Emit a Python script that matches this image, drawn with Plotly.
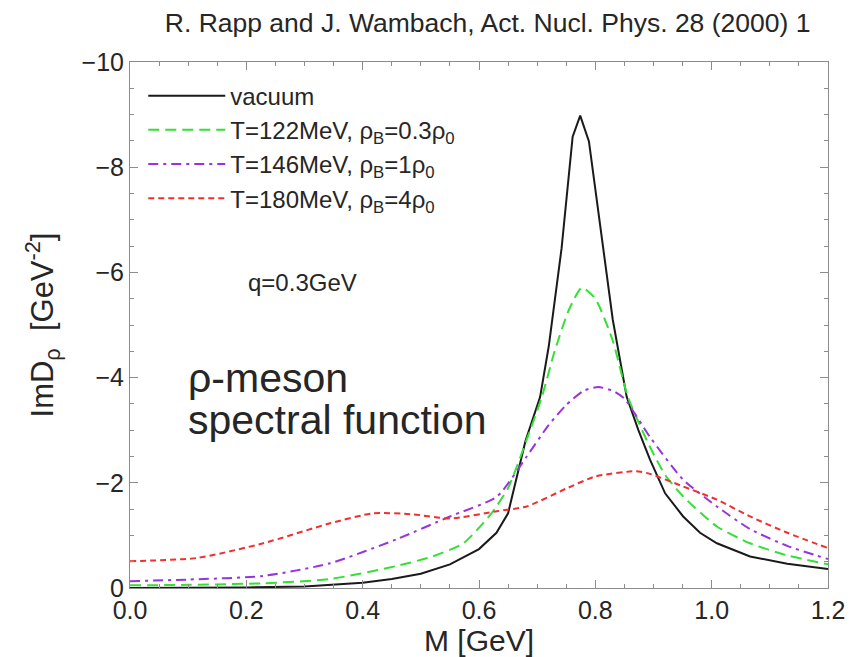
import plotly.graph_objects as go

# M [GeV] and ImD_rho [GeV^-2]
m_vac = [0.0, 0.1, 0.2, 0.3, 0.4, 0.45, 0.5, 0.55, 0.6, 0.63, 0.65, 0.68, 0.705, 0.72, 0.742, 0.761, 0.774, 0.789, 0.80, 0.813, 0.83, 0.854, 0.874, 0.894, 0.92, 0.951, 0.98, 1.009, 1.066, 1.13, 1.2]
v_vac = [0.0, -0.005, -0.01, -0.03, -0.1, -0.17, -0.27, -0.45, -0.74, -1.05, -1.42, -2.8, -3.63, -4.6, -6.46, -8.58, -8.98, -8.49, -7.6, -6.46, -5.1, -3.63, -3.0, -2.44, -1.8, -1.36, -1.05, -0.85, -0.6, -0.46, -0.36]

m_122 = [0.0, 0.1, 0.229, 0.344, 0.459, 0.52, 0.573, 0.62, 0.65, 0.682, 0.708, 0.73, 0.755, 0.777, 0.80, 0.83, 0.856, 0.894, 0.92, 0.951, 1.009, 1.066, 1.13, 1.2]
v_122 = [-0.05, -0.06, -0.09, -0.17, -0.42, -0.6, -0.85, -1.4, -1.9, -2.82, -3.63, -4.5, -5.3, -5.71, -5.5, -4.7, -3.63, -2.68, -2.15, -1.74, -1.17, -0.85, -0.62, -0.45]

m_146 = [0.0, 0.1, 0.229, 0.344, 0.459, 0.55, 0.631, 0.682, 0.72, 0.75, 0.78, 0.805, 0.83, 0.85, 0.894, 0.951, 1.009, 1.066, 1.13, 1.2]
v_146 = [-0.13, -0.16, -0.23, -0.47, -0.93, -1.36, -1.74, -2.5, -3.1, -3.48, -3.75, -3.82, -3.75, -3.6, -2.87, -2.06, -1.55, -1.12, -0.8, -0.55]

m_180 = [0.0, 0.115, 0.229, 0.344, 0.418, 0.487, 0.55, 0.631, 0.682, 0.75, 0.8, 0.87, 0.894, 0.951, 1.009, 1.066, 1.13, 1.2]
v_180 = [-0.51, -0.57, -0.85, -1.23, -1.42, -1.40, -1.32, -1.46, -1.55, -1.89, -2.12, -2.22, -2.17, -1.93, -1.68, -1.36, -1.05, -0.76]

names = ["vacuum",
         "T=122MeV, ρ<sub>B</sub>=0.3ρ<sub>0</sub>",
         "T=146MeV, ρ<sub>B</sub>=1ρ<sub>0</sub>",
         "T=180MeV, ρ<sub>B</sub>=4ρ<sub>0</sub>"]

x_ticks = [0.0, 0.2, 0.4, 0.6, 0.8, 1.0, 1.2]
x_tick_text = ["0.0", "0.2", "0.4", "0.6", "0.8", "1.0", "1.2"]
y_ticks = [0, -2, -4, -6, -8, -10]
y_tick_text = ["0", "−2", "−4", "−6", "−8", "−10"]

FONT = "Liberation Sans, Arial, sans-serif"
TXT = "#262626"

fig = go.Figure()
fig.add_trace(go.Scatter(x=m_vac, y=v_vac, mode="lines", name=names[0],
                         line=dict(color="#1a1a1a", width=2)))
fig.add_trace(go.Scatter(x=m_122, y=v_122, mode="lines", name=names[1],
                         line=dict(color="#33e033", width=2, dash="11px,6px", shape="spline", smoothing=0.6)))
fig.add_trace(go.Scatter(x=m_146, y=v_146, mode="lines", name=names[2],
                         line=dict(color="#9933dd", width=2, dash="10px,5px,3px,5px", shape="spline", smoothing=0.6)))
fig.add_trace(go.Scatter(x=m_180, y=v_180, mode="lines", name=names[3],
                         line=dict(color="#ee3030", width=2, dash="6px,4px", shape="spline", smoothing=0.6)))

axis_common = dict(showline=True, linecolor="#8c8c8c", linewidth=1, mirror="allticks",
                   ticks="inside", tickcolor="#8c8c8c", showgrid=False, zeroline=False,
                   tickfont=dict(family=FONT, size=25, color=TXT))

fig.update_xaxes(range=[0, 1.2], tickvals=x_ticks, ticktext=x_tick_text, ticklen=8,
                 minor=dict(dtick=0.05, ticks="inside", ticklen=4, tickcolor="#8c8c8c"),
                 title=dict(text="M [GeV]", font=dict(family=FONT, size=30, color=TXT), standoff=0),
                 **axis_common)
fig.update_yaxes(range=[0, -10], tickvals=y_ticks, ticktext=y_tick_text, ticklen=8,
                 minor=dict(dtick=0.5, ticks="inside", ticklen=4, tickcolor="#8c8c8c"),
                 title=dict(text="ImD<sub>ρ</sub>  [GeV<sup>-2</sup>]", font=dict(family=FONT, size=31, color=TXT), standoff=18),
                 **axis_common)

fig.update_layout(
    width=860, height=657,
    margin=dict(l=130, r=32, t=62, b=65),
    paper_bgcolor="white", plot_bgcolor="white",
    font=dict(family=FONT, color=TXT),
    title=dict(text="R. Rapp and J. Wambach, Act. Nucl. Phys. 28 (2000) 1",
               x=0.567, xanchor="center", y=0.966, yanchor="middle",
               font=dict(family=FONT, size=26.5, color=TXT)),
    legend=dict(x=0.019, y=0.978, xanchor="left", yanchor="top", bgcolor="rgba(0,0,0,0)",
                font=dict(family=FONT, size=24, color=TXT), itemwidth=77, tracegroupgap=0),
    annotations=[
        dict(text="q=0.3GeV", x=0.2, y=-5.8, xref="x", yref="y", xanchor="left", yanchor="middle",
             showarrow=False, font=dict(family=FONT, size=24, color=TXT)),
        dict(text="ρ-meson", x=0.097, y=-3.99, xref="x", yref="y",
             xanchor="left", yanchor="middle", showarrow=False,
             font=dict(family=FONT, size=41, color=TXT)),
        dict(text="spectral function", x=0.097, y=-3.2, xref="x", yref="y",
             xanchor="left", yanchor="middle", showarrow=False,
             font=dict(family=FONT, size=41, color=TXT)),
    ],
)

fig.write_html("out.html")
